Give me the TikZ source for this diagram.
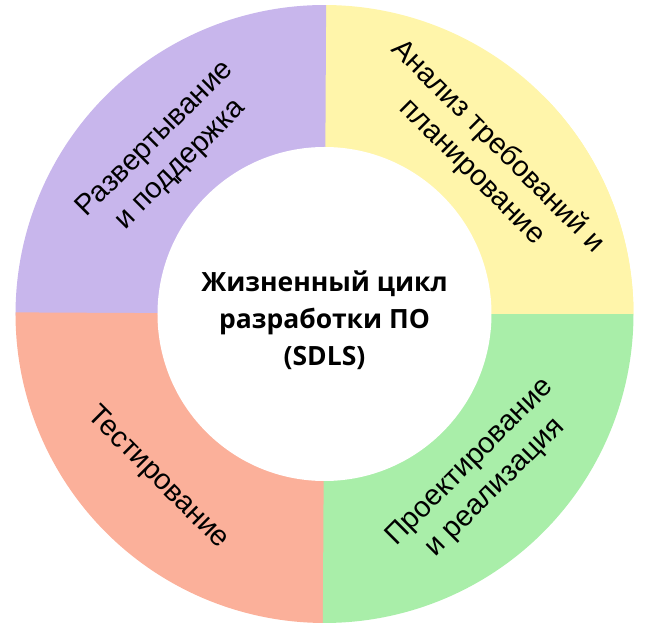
\documentclass[tikz,border=0pt]{standalone}
\usepackage{fontspec}
\setmainfont{Liberation Sans}
\newfontfamily\centerfont{Open Sans}
\definecolor{cPurple}{HTML}{C8B6EC}
\definecolor{cYellow}{HTML}{FFF5AA}
\definecolor{cGreen}{HTML}{A9EEA9}
\definecolor{cSalmon}{HTML}{FBB09A}
\begin{document}
\begin{tikzpicture}[x=1pt,y=1pt,
  ringlabel/.style={align=center,font=\fontsize{29}{36}\selectfont,text=black,inner sep=0pt},
  centerlabel/.style={align=center,font=\centerfont\bfseries\fontsize{26.5}{37}\selectfont,text=black,inner sep=0pt}]
\useasboundingbox (-324.5,-317) rectangle (324.5,314);
\def\Ro{309}
\def\Ri{167}
% sectors
\fill[cYellow] (0,0) -- (-0.3:\Ro) arc (-0.3:90.3:\Ro) -- cycle;
\fill[cPurple] (0,0) -- (89.7:\Ro) arc (89.7:180.3:\Ro) -- cycle;
\fill[cSalmon] (0,0) -- (179.7:\Ro) arc (179.7:270.3:\Ro) -- cycle;
\fill[cGreen] (0,0) -- (269.7:\Ro) arc (269.7:360:\Ro) -- cycle;
\fill[cYellow] (0,0) -- (0:\Ro) arc (0:45:\Ro) -- cycle;
\fill[white] (0,0) circle (\Ri);
% labels
\node[ringlabel,rotate=45] (deploy) at (134:225) {Развертывание\\и поддержка};
\node[ringlabel,rotate=-45] (analysis) at (44:223) {Анализ требований и\\планирование};
\node[ringlabel,rotate=45] (design) at (-45.5:226) {Проектирование\\и реализация};
\node[ringlabel,rotate=-45] (testing) at (224.5:234) {Тестирование};
\node[centerlabel] (center) at (0,-6) {Жизненный цикл\\разработки ПО\\(SDLS)};
\end{tikzpicture}
\end{document}
